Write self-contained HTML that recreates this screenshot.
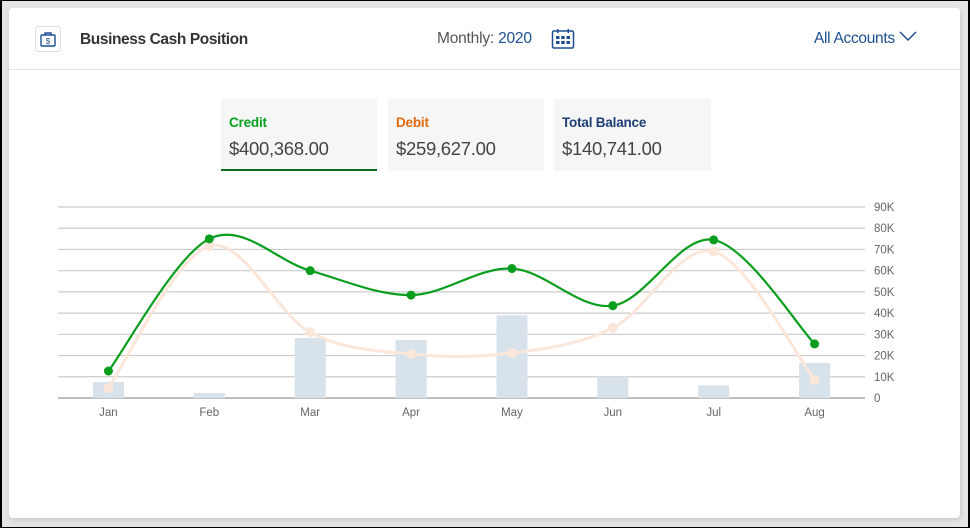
<!DOCTYPE html>
<html><head><meta charset="utf-8">
<style>
html,body{margin:0;padding:0}
body{width:970px;height:528px;background:#e4e4e4;position:relative;overflow:hidden;font-family:"Liberation Sans",sans-serif;box-sizing:border-box;border:1px solid #000;border-left-width:2px;border-right-width:2px}
.card{position:absolute;left:7px;top:7px;width:951px;height:510px;background:#fff;border-radius:4px;box-shadow:1px 2px 4px rgba(0,0,0,.12)}
.hdr{position:absolute;left:0;top:0;width:951px;height:61px;border-bottom:1px solid #e1e1e1}
.icon{position:absolute;left:26px;top:18px;width:26px;height:26px;border:1px solid #ddd;border-radius:3px;box-sizing:border-box}
.title{position:absolute;left:71px;top:23px;font-size:15.5px;font-weight:bold;color:#333;letter-spacing:-0.4px}
.monthly{position:absolute;left:428px;top:22px;font-size:15.5px;color:#555;letter-spacing:-0.2px}
.monthly span{color:#1d4f91}
.cal{position:absolute;left:542px;top:20px}
.accts{position:absolute;left:805px;top:22px;font-size:15.5px;color:#1d4f91;letter-spacing:-0.3px}
.tab{position:absolute;top:91px;width:156px;height:72px;background:#f6f6f6;box-sizing:border-box;padding:16px 0 0 8px}
.tab .l{font-size:13.5px;font-weight:bold;letter-spacing:-0.2px}
.tab .v{font-size:18.5px;color:#444;margin-top:8px;letter-spacing:-0.3px}
</style></head><body>
<div class="card">
 <div class="hdr">
  <div class="icon">
   <svg width="24" height="24" viewBox="0 0 24 24"><rect x="5" y="8" width="14" height="11" rx="1" fill="none" stroke="#1d4f91" stroke-width="1.4"/><path d="M9 8V6h6v2" fill="none" stroke="#1d4f91" stroke-width="1.4"/><text x="12" y="17" font-size="8" text-anchor="middle" fill="#1d4f91" font-family="Liberation Sans">$</text></svg>
  </div>
  <div class="title">Business Cash Position</div>
  <div class="monthly">Monthly: <span>2020</span></div>
  <svg class="cal" width="24" height="22" viewBox="0 0 24 22"><rect x="1.5" y="3" width="21" height="17" rx="1.5" fill="none" stroke="#1d4f91" stroke-width="1.5"/><rect x="6" y="1" width="1.5" height="4" fill="#1d4f91"/><rect x="16.5" y="1" width="1.5" height="4" fill="#1d4f91"/><g fill="#1d4f91"><rect x="5" y="8" width="3.5" height="3"/><rect x="10.2" y="8" width="3.5" height="3"/><rect x="15.5" y="8" width="3.5" height="3"/><rect x="5" y="13" width="3.5" height="3"/><rect x="10.2" y="13" width="3.5" height="3"/><rect x="15.5" y="13" width="3.5" height="3"/></g></svg>
  <div class="accts">All Accounts <svg width="18" height="12" viewBox="0 0 18 12" style="vertical-align:1px"><path d="M1 2l8 8 8-8" fill="none" stroke="#1d4f91" stroke-width="1.5"/></svg></div>
 </div>
 <div class="tab" style="left:212px;border-bottom:2px solid #0a6e1a"><div class="l" style="color:#08a020">Credit</div><div class="v">$400,368.00</div></div>
 <div class="tab" style="left:379px"><div class="l" style="color:#e06a10">Debit</div><div class="v">$259,627.00</div></div>
 <div class="tab" style="left:545px;width:157px"><div class="l" style="color:#1d3f75">Total Balance</div><div class="v">$140,741.00</div></div>
</div>
<svg id="chart" width="970" height="528" style="position:absolute;left:-2px;top:-1px"></svg>
<script>
const months=["Jan","Feb","Mar","Apr","May","Jun","Jul","Aug"];
const credit=[12.7,75,60,48.5,61,43.5,74.5,25.5];
const debit=[4.7,71.6,31,20.7,21.2,33,69,8.5];
const balance=[7.5,2.4,28.3,27.3,39,10,6,16.5];
const yTicks=[0,10,20,30,40,50,60,70,80,90];
const ns="http://www.w3.org/2000/svg";
const svg=document.getElementById('chart');
const X0=58,X1=865,Y0=398,Y1=207,MAX=90;
const bw=(X1-X0)/months.length;
const x=i=>X0+bw*(i+0.5);
const y=v=>Y0-(v/MAX)*(Y0-Y1);
function mk(t,a){const e=document.createElementNS(ns,t);for(const k in a)e.setAttribute(k,a[k]);svg.appendChild(e);return e;}
yTicks.forEach(t=>{
 const l=mk('line',{x1:X0,x2:X1,y1:y(t),y2:y(t),stroke:t===0?'#999':'#ccc','stroke-width':t===0?1.3:1.2});
 
 
 const tx=mk('text',{x:874,y:y(t)+4,'font-size':11.5,fill:'#666','font-family':'Liberation Sans'});
 tx.textContent=t===0?'0':t+'K';
 
 
});
balance.forEach((v,i)=>{
 const r=mk('rect',{x:x(i)-15.5,y:y(v),width:31,height:Y0-y(v),fill:'#d8e2ea'});
 
 
});
months.forEach((m,i)=>{
 const tx=mk('text',{x:x(i),y:416,'font-size':11.5,fill:'#666','text-anchor':'middle','font-family':'Liberation Sans'});
 tx.textContent=m;
 
 
});
function path(vals){
 const p=vals.map((v,i)=>[x(i),y(v)]);
 let d='M'+p[0][0]+','+p[0][1];
 for(let i=0;i<p.length-1;i++){
  const p0=p[i-1]||p[i],p1=p[i],p2=p[i+1],p3=p[i+2]||p2;
  const c1=[p1[0]+(p2[0]-p0[0])/6,p1[1]+(p2[1]-p0[1])/6];
  const c2=[p2[0]-(p3[0]-p1[0])/6,p2[1]-(p3[1]-p1[1])/6];
  d+=' C'+c1+' '+c2+' '+p2;
 }
 return d;
}
const dl=mk('path',{d:path(debit),fill:'none',stroke:'#fbe6da','stroke-width':3});


debit.forEach((v,i)=>{const c=mk('circle',{cx:x(i),cy:y(v),r:5,fill:'#fbe6da'});
 
 });
const cl=mk('path',{d:path(credit),fill:'none',stroke:'#0a9e1e','stroke-width':2.2});


credit.forEach((v,i)=>{const c=mk('circle',{cx:x(i),cy:y(v),r:4.5,fill:'#0a9e1e'});
 
 });
</script>
</body></html>
